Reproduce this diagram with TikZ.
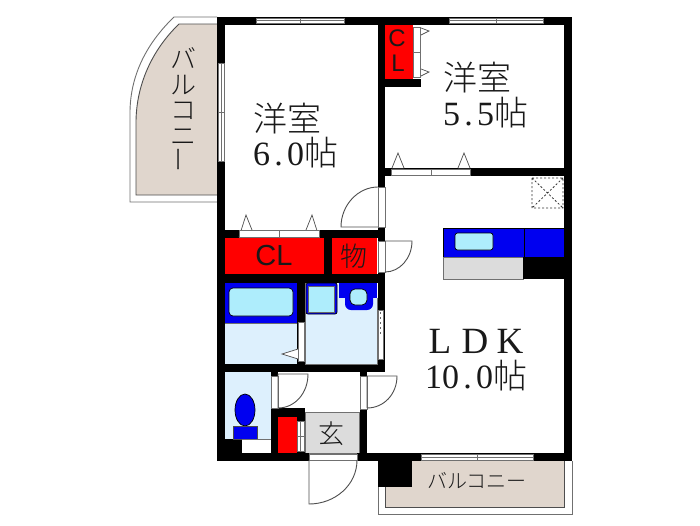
\documentclass[tikz,border=0pt]{standalone}
\usepackage{fontspec}
\usepackage{graphicx}
\setmainfont{Liberation Serif}
\newfontfamily\jp{Noto Sans CJK JP Light}
\newfontfamily\arl{Liberation Sans}
\newcommand{\bigtxt}{\fontsize{34}{38}\selectfont}
\newcommand{\dt}{\makebox[.5em]{.}}
\definecolor{beige}{HTML}{E0D6CD}
\definecolor{lineg}{HTML}{707070}
\definecolor{wetblue}{HTML}{DDF0FD}
\definecolor{aqua}{HTML}{AEEDFC}
\definecolor{pureblue}{HTML}{0000F0}
\definecolor{pured}{HTML}{FF0000}
\definecolor{floorg}{HTML}{DCDCDC}
\tikzset{
  wall/.style={fill=black,draw=none},
  frame/.style={fill=white,draw=lineg,line width=.7pt},
  leaf/.style={draw=lineg!70!black,line width=.9pt},
  thin line/.style={draw=lineg,line width=.9pt},
  balc/.style={fill=beige,draw=lineg!70!black,line width=.9pt},
  lbl/.style={inner sep=0pt,outer sep=0pt,anchor=base west,text=black!90},
  txt/.style={inner sep=0pt,outer sep=0pt,text=black!90},
  tri/.style={fill=white,draw=lineg!70!black,line width=.7pt},
  fitting/.style={draw=black,line width=.7pt,rounded corners=2.5pt,fill=aqua},
}
\begin{document}
\begin{tikzpicture}[x=1pt,y=-1pt]
\useasboundingbox (0,0) rectangle (700,525);
\fill[white] (0,0) rectangle (700,525);
% west balcony
\draw[thin line] (217,17) -- (174,17) .. controls (147,43) and (130,75) .. (130,113) -- (130,202) -- (217,202);
\draw[balc] (217,24) -- (179,24) .. controls (152,50) and (136,85) .. (136,123) -- (136,195) -- (217,195);
% south balcony
\draw[thin line] (378,461) -- (378,514) -- (572,514) -- (572,461);
\draw[balc] (385,461) -- (385,507) -- (564,507) -- (564,461);
% floor fills
\fill[pured] (225,238) rectangle (324,274);
\fill[pured] (332,238) rectangle (377,274);
\fill[pured] (385,24) rectangle (413,79);
\fill[pured] (278,417) rectangle (297,453);
\fill[wetblue] (225,323) rectangle (297,364);
\fill[wetblue] (305,283) rectangle (377,364);
\fill[wetblue] (225,372) rectangle (271,439);
\filldraw[fill=floorg,draw=lineg,line width=.7pt] (305,412) rectangle (359,453);
% walls
\fill[wall] (217,17) rectangle (572,24.5);
\fill[wall] (217,17) rectangle (225,461);
\fill[wall] (564,17) rectangle (572,461);
\fill[wall] (377.5,17) rectangle (385,241);
\fill[wall] (377.5,241) rectangle (385,372);
\fill[wall] (385,79) rectangle (421,87);
\fill[wall] (385,168) rectangle (564,176);
\fill[wall] (225,230) rectangle (385,238);
\fill[wall] (324,238) rectangle (332,274);
\fill[wall] (225,274) rectangle (385,283);
\fill[wall] (297,283) rectangle (305,364);
\fill[wall] (217,364) rectangle (385,372);
\fill[wall] (217,453) rectangle (309,461);
\fill[wall] (357,453) rectangle (572,461);
\fill[wall] (225,439) rectangle (242,453);
\fill[wall] (271,372) rectangle (278,376);
\fill[wall] (271,408) rectangle (305,417);
\fill[wall] (271,417) rectangle (278,453);
\fill[wall] (297,417) rectangle (305,421);
\fill[wall] (297,451) rectangle (305,453);
\fill[wall] (359.5,372) rectangle (367,376);
\fill[wall] (359.5,409) rectangle (367,461);
\fill[wall] (377.5,453) rectangle (412,487);
% windows
\draw[frame] (256,18) rectangle (344,23);
\draw[lineg,line width=.6pt] (256,20.5) -- (300,20.5) (300,18) -- (300,23) (300,20.5) -- (344,20.5);
\draw[frame] (449,18) rectangle (543,23);
\draw[lineg,line width=.6pt] (449,20.5) -- (496,20.5) (496,18) -- (496,23) (496,20.5) -- (543,20.5);
\draw[frame] (218,63) rectangle (224,161);
\draw[lineg,line width=.6pt] (221,63) -- (221,161) (218,112) -- (224,112);
\draw[frame] (421,454) rectangle (533,460);
\draw[lineg,line width=.6pt] (421,457) -- (533,457) (477,454) -- (477,460);
% closet doors
\draw[tri] (239,237) -- (246,215) -- (252,230);
\draw[tri] (306,230) -- (312,215) -- (319,237);
\draw[frame] (239,230.5) rectangle (319,237.5);
\draw[lineg,line width=.6pt] (279,230.5) -- (279,237.5);
\draw[tri] (421,28) -- (429,31) -- (421,35);
\draw[tri] (421,69) -- (429,72) -- (421,76);
\draw[frame] (413,27) rectangle (420,77);
\draw[lineg,line width=.6pt] (413,52) -- (420,52);
\draw[tri] (392,168) -- (398,153) -- (404,168);
\draw[tri] (458,168) -- (464,153) -- (470,168);
\draw[frame] (391,169) rectangle (470,175.5);
\draw[lineg,line width=.6pt] (431,169) -- (431,175.5);
\draw[frame] (297.5,421) rectangle (304,451);
\draw[lineg,line width=.6pt] (297.5,436) -- (304,436) (300.5,421) -- (300.5,451);
% swing doors
\draw[frame] (378,187) rectangle (385,227);
\draw[leaf] (378,227) -- (341,227) .. controls (341,205) and (358,187) .. (378,187);
\draw[frame] (378,241) rectangle (385,272);
\draw[leaf] (385,241) -- (412,241) .. controls (412,258) and (400,272) .. (385,272);
\draw[frame] (271,376) rectangle (278,408);
\draw[leaf] (278,408) -- (278,374) -- (308,374) .. controls (308,393) and (295,408) .. (278,408);
\draw[frame] (360,376) rectangle (367,409);
\draw[leaf] (367,408) -- (367,376) -- (397,376) .. controls (397,394) and (384,408) .. (367,408);
\draw[frame] (309,454) rectangle (357,460);
\draw[leaf] (309,460) -- (309,504) .. controls (335,504) and (357,485) .. (357,460);
% bathroom door and folding door
\draw[tri] (298,349) -- (282,354) -- (298,359);
\draw[frame] (298,322) rectangle (304,361);
\draw[frame] (378,310) rectangle (383,359);
\draw[black!60,line width=1.2pt,dash pattern=on 2pt off 3pt] (380.5,312) -- (380.5,335);
% bath
\fill[pureblue] (225,283) rectangle (297,323);
\draw[lineg,line width=.7pt] (225,323) -- (297,323);
\draw[fitting,rounded corners=4pt] (229,288) rectangle (293,316);
% wash
\filldraw[fill=pureblue,draw=black,line width=.7pt,rounded corners=2pt] (306,283) rectangle (337,314);
\draw[fitting,rounded corners=0pt,draw=black!60] (308,286) rectangle (334,312);
\fill[pureblue,rounded corners=6pt] (345,290) -- (345,310) -- (373,310) -- (373,290) -- cycle;
\fill[pureblue] (339,283) rectangle (377,298);
\draw[fitting,rounded corners=5pt] (350,289) rectangle (367,305);
\draw[lineg,line width=.7pt] (305,283) -- (305,364) -- (377,364) -- (377,298);
% toilet
\filldraw[fill=pureblue,draw=black,line width=.7pt] (245,410) ellipse [x radius=10,y radius=16];
\filldraw[fill=pureblue,draw=black!70,line width=.7pt] (233,426) rectangle (257,439);
\draw[lineg,line width=.7pt] (242,439) -- (271,439);
% kitchen
\fill[pureblue] (443,228) rectangle (564,257);
\draw[black,line width=.7pt] (443,228) rectangle (564,257) (524,228) -- (524,257);
\filldraw[fill=floorg,draw=lineg,line width=.7pt] (443,257) rectangle (523,279);
\fill[black] (523,257) rectangle (564,279);
\draw[fitting] (455,233) rectangle (493,250);
% vent
\draw[black!80,line width=.8pt,dash pattern=on 2pt off 2pt] (532,178) rectangle (563,208) (532,178) -- (563,208) (563,178) -- (532,208);
% text
\node[lbl,font=\bigtxt\jp] (w6) at (253,131) {洋室};
\node[lbl,font=\bigtxt] (a6) at (253,165) {6\dt 0{\jp 帖}};
\node[lbl,font=\bigtxt\jp] (w5) at (443,90) {洋室};
\node[lbl,font=\bigtxt] (a5) at (443,125) {5\dt 5{\jp 帖}};
\node[lbl,font=\fontsize{37}{40}\selectfont] (ldk) at (422.5,353) {\makebox[35pt]{L}\makebox[35pt]{D}\makebox[35pt]{K}};
\node[lbl,font=\bigtxt] (a10) at (425,388) {10\dt 0{\jp 帖}};
\node[txt,font=\fontsize{29}{32}\selectfont\arl] (cl1) at (274,256) {CL};
\node[txt,font=\fontsize{24}{26}\selectfont\arl] (cl2a) at (397,38) {C};
\node[txt,font=\fontsize{24}{26}\selectfont\arl] (cl2b) at (398,63) {L};
\node[txt,font=\fontsize{27}{30}\selectfont\jp] (mono) at (354,256) {物};
\node[txt,font=\fontsize{26}{30}\selectfont\jp] (gen) at (331,434) {玄};
\node[txt,font=\fontsize{20}{24}\selectfont\jp] (bs) at (477,481) {バルコニー};
\node[txt,font=\fontsize{26}{25.5}\selectfont\jp,align=center] (bw) at (183,110) {バ\\ル\\コ\\ニ\\\rotatebox{90}{ー}};
\end{tikzpicture}
\end{document}
